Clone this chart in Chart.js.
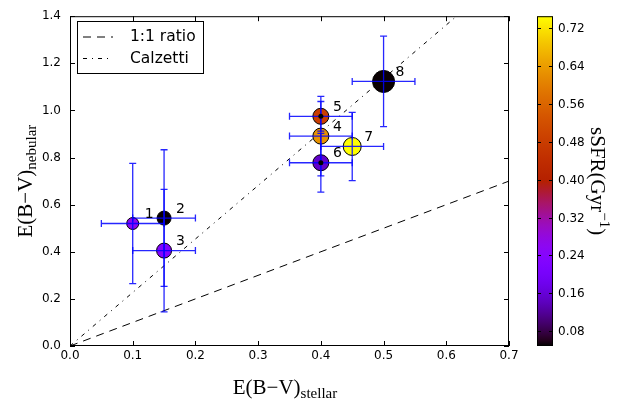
<!DOCTYPE html>
<html>
<head>
<meta charset="utf-8">
<script src="https://cdn.jsdelivr.net/npm/chart.js@4.4.0/dist/chart.umd.min.js"></script>
<style>
html, body { margin: 0; padding: 0; background: #fff; }
canvas { display: block; }
</style>
</head>
<body>
<canvas id="dustChart" width="620" height="403"></canvas>
<script>
// galaxy data
const ids = ['1', '2', '3', '4', '5', '6', '7', '8'];
const ebvStellar = [0.10, 0.15, 0.15, 0.40, 0.40, 0.40, 0.45, 0.50];
const ebvNebular = [0.520, 0.543, 0.405, 0.891, 0.975, 0.778, 0.847, 1.123];
const errStellar = [0.05, 0.05, 0.05, 0.05, 0.05, 0.05, 0.05, 0.05];
const errNebular = [0.255, 0.290, 0.260, 0.169, 0.063, 0.125, 0.145, 0.192];
const ssfr = [0.26, 0.05, 0.23, 0.627, 0.48, 0.15, 0.745, 0.05];
const markerRadius = [6, 7, 7.5, 8, 8, 8, 9, 11];
const centreDot = [false, false, false, false, true, true, false, false];

// reference lines
const ratioX = [0, 0.7];
const ratioY = [0, 0.7];
const calzX = [0, 0.7];
const calzY = [0, 1.59];

const xTicks = [0.0, 0.1, 0.2, 0.3, 0.4, 0.5, 0.6, 0.7];
const yTicks = [0.0, 0.2, 0.4, 0.6, 0.8, 1.0, 1.2, 1.4];
const cTicks = [0.08, 0.16, 0.24, 0.32, 0.40, 0.48, 0.56, 0.64, 0.72];
const cMin = 0.049, cMax = 0.745;

// gnuplot colormap
function gnuplot(t) {
    t = Math.max(0, Math.min(1, t));
    const r = Math.sqrt(t), g = t * t * t, b = Math.max(0, Math.sin(2 * Math.PI * t));
    return `rgb(${Math.round(r * 255)},${Math.round(g * 255)},${Math.round(b * 255)})`;
}
const colourOf = v => gnuplot((v - cMin) / (cMax - cMin));

const pts = (xs, ys) => xs.map((x, i) => ({ x: x, y: ys[i] }));

const tickFont = '12px "DejaVu Sans"';
const titleFont = '21px "Liberation Serif"';
const subFont = '15px "Liberation Serif"';

function mathLabel(ctx, main, sub, sup, tail) {
    // draws main + subscript/superscript centred on origin
    ctx.font = titleFont;
    const wMain = ctx.measureText(main).width;
    const wTail = tail ? ctx.measureText(tail).width : 0;
    ctx.font = subFont;
    const wSub = ctx.measureText(sub || sup).width;
    let x = -(wMain + wSub + wTail) / 2;
    ctx.textAlign = 'left';
    ctx.textBaseline = 'alphabetic';
    ctx.font = titleFont;
    ctx.fillText(main, x, 6);
    x += wMain;
    ctx.font = subFont;
    ctx.fillText(sub || sup, x, sub ? 10 : -3);
    x += wSub;
    if (tail) { ctx.font = titleFont; ctx.fillText(tail, x, 6); }
}

const decor = {
    id: 'decor',
    beforeDraw(chart) {
        const ctx = chart.ctx;
        ctx.save();
        ctx.fillStyle = '#fff';
        ctx.fillRect(0, 0, chart.width, chart.height);
        ctx.restore();
    },
    afterDatasetsDraw(chart) {
        const ctx = chart.ctx;
        const xs = chart.scales.x, ys = chart.scales.y, cs = chart.scales.c;
        const a = chart.chartArea;
        ctx.save();

        // error bars
        ctx.strokeStyle = 'rgba(0,0,255,0.85)';
        ctx.lineWidth = 1.3;
        const cap = 3.5;
        ids.forEach((id, i) => {
            const px = xs.getPixelForValue(ebvStellar[i]);
            const py = ys.getPixelForValue(ebvNebular[i]);
            const x0 = xs.getPixelForValue(ebvStellar[i] - errStellar[i]);
            const x1 = xs.getPixelForValue(ebvStellar[i] + errStellar[i]);
            const y0 = ys.getPixelForValue(ebvNebular[i] - errNebular[i]);
            const y1 = ys.getPixelForValue(ebvNebular[i] + errNebular[i]);
            ctx.beginPath();
            ctx.moveTo(x0, py); ctx.lineTo(x1, py);
            ctx.moveTo(px, y0); ctx.lineTo(px, y1);
            ctx.moveTo(x0, py - cap); ctx.lineTo(x0, py + cap);
            ctx.moveTo(x1, py - cap); ctx.lineTo(x1, py + cap);
            ctx.moveTo(px - cap, y0); ctx.lineTo(px + cap, y0);
            ctx.moveTo(px - cap, y1); ctx.lineTo(px + cap, y1);
            ctx.stroke();
        });

        // small centre markers
        ctx.fillStyle = '#000';
        ids.forEach((id, i) => {
            if (!centreDot[i]) return;
            ctx.beginPath();
            ctx.arc(xs.getPixelForValue(ebvStellar[i]), ys.getPixelForValue(ebvNebular[i]), 2.5, 0, 2 * Math.PI);
            ctx.fill();
        });

        // number labels
        ctx.font = '14px "DejaVu Sans"';
        ctx.textAlign = 'center';
        ctx.textBaseline = 'middle';
        ids.forEach((id, i) => {
            ctx.fillText(id, xs.getPixelForValue(ebvStellar[i]) + 16.5, ys.getPixelForValue(ebvNebular[i]) - 9);
        });

        // frame and inward ticks
        ctx.strokeStyle = '#000';
        ctx.lineWidth = 1;
        ctx.strokeRect(a.left + 0.5, a.top + 0.5, a.right - a.left - 1, a.bottom - a.top - 1);
        const tl = 5;
        ctx.beginPath();
        xTicks.forEach(v => {
            const p = Math.round(xs.getPixelForValue(v)) + 0.5;
            ctx.moveTo(p, a.bottom); ctx.lineTo(p, a.bottom - tl);
            ctx.moveTo(p, a.top); ctx.lineTo(p, a.top + tl);
        });
        yTicks.forEach(v => {
            const p = Math.round(ys.getPixelForValue(v)) + 0.5;
            ctx.moveTo(a.left, p); ctx.lineTo(a.left + tl, p);
            ctx.moveTo(a.right, p); ctx.lineTo(a.right - tl, p);
        });
        ctx.stroke();

        // legend
        const lx = 77.5, ly = 21.5, lw = 126, lh = 52;
        ctx.fillStyle = '#fff';
        ctx.fillRect(lx, ly, lw, lh);
        ctx.strokeRect(lx, ly, lw, lh);
        ctx.font = '15.5px "DejaVu Sans"';
        ctx.textAlign = 'left';
        ctx.textBaseline = 'middle';
        [1, 2].forEach((di, k) => {
            const ds = chart.data.datasets[di];
            const yy = 37 + k * 21.5;
            ctx.save();
            ctx.setLineDash(ds.borderDash);
            ctx.strokeStyle = '#000';
            ctx.lineWidth = 1;
            ctx.beginPath();
            ctx.moveTo(83, yy); ctx.lineTo(113, yy);
            ctx.stroke();
            ctx.restore();
            ctx.fillStyle = '#000';
            ctx.fillText(ds.label, 130, yy);
        });

        // colour bar
        const cbL = 537, cbR = 553;
        const top = cs.getPixelForValue(cMax), bot = cs.getPixelForValue(cMin);
        const grad = ctx.createLinearGradient(0, bot, 0, top);
        for (let k = 0; k <= 60; k++) grad.addColorStop(k / 60, gnuplot(k / 60));
        ctx.fillStyle = grad;
        ctx.fillRect(cbL, top, cbR - cbL, bot - top);
        ctx.strokeStyle = '#000';
        ctx.strokeRect(cbL + 0.5, top + 0.5, cbR - cbL - 1, bot - top - 1);
        ctx.font = tickFont;
        ctx.fillStyle = '#000';
        ctx.textAlign = 'left';
        ctx.textBaseline = 'middle';
        ctx.beginPath();
        cTicks.forEach(v => {
            const p = Math.round(cs.getPixelForValue(v)) + 0.5;
            ctx.moveTo(cbR, p); ctx.lineTo(cbR - 4, p);
            ctx.moveTo(cbL, p); ctx.lineTo(cbL + 4, p);
            ctx.fillText(v.toFixed(2), cbR + 5, p);
        });
        ctx.stroke();

        // axis titles
        ctx.fillStyle = '#000';
        ctx.save();
        ctx.translate(285, 388);
        mathLabel(ctx, 'E(B\u2212V)', 'stellar');
        ctx.restore();
        ctx.save();
        ctx.translate(26, (a.top + a.bottom) / 2);
        ctx.rotate(-Math.PI / 2);
        mathLabel(ctx, 'E(B\u2212V)', 'nebular');
        ctx.restore();
        ctx.save();
        ctx.translate(597, (a.top + a.bottom) / 2);
        ctx.rotate(Math.PI / 2);
        mathLabel(ctx, 'sSFR(Gyr', null, '\u22121', ')');
        ctx.restore();

        ctx.restore();
    }
};

new Chart(document.getElementById('dustChart'), {
    type: 'scatter',
    data: {
        datasets: [
            {
                label: 'galaxies',
                data: pts(ebvStellar, ebvNebular),
                backgroundColor: ssfr.map(colourOf),
                borderColor: '#000',
                borderWidth: 1,
                pointRadius: markerRadius,
                pointHoverRadius: markerRadius,
                order: 1
            },
            {
                label: '1:1 ratio',
                data: pts(ratioX, ratioY),
                showLine: true,
                borderColor: '#000',
                borderWidth: 1,
                borderDash: [8, 6],
                pointRadius: 0,
                order: 3
            },
            {
                label: 'Calzetti',
                data: pts(calzX, calzY),
                showLine: true,
                borderColor: '#000',
                borderWidth: 1,
                borderDash: [4, 5, 1, 5],
                pointRadius: 0,
                order: 2
            }
        ]
    },
    options: {
        responsive: false,
        animation: false,
        layout: { padding: { left: 0, right: 111, top: 15, bottom: 0 } },
        plugins: { legend: { display: false }, tooltip: { enabled: false } },
        scales: {
            x: {
                type: 'linear',
                min: 0, max: 0.7,
                afterBuildTicks: s => { s.ticks = xTicks.map(v => ({ value: v })); },
                afterFit: s => { s.height = 57; },
                grid: { display: false, drawTicks: false },
                border: { display: false },
                ticks: { font: { family: 'DejaVu Sans', size: 12 }, color: '#000', padding: 3, maxRotation: 0,
                    callback: v => v.toFixed(1) }
            },
            y: {
                type: 'linear',
                min: 0, max: 1.4,
                afterBuildTicks: s => { s.ticks = yTicks.map(v => ({ value: v })); },
                afterFit: s => { s.width = 70; },
                grid: { display: false, drawTicks: false },
                border: { display: false },
                ticks: { font: { family: 'DejaVu Sans', size: 12 }, color: '#000', padding: 9,
                    callback: v => v.toFixed(1) }
            },
            c: {
                type: 'linear',
                position: 'right',
                display: false,
                min: cMin, max: cMax
            }
        }
    },
    plugins: [decor]
});
</script>
</body>
</html>
